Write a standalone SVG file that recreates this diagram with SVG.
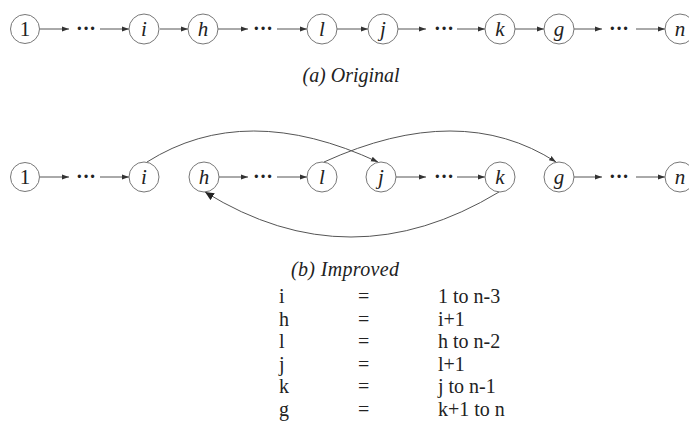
<svg xmlns="http://www.w3.org/2000/svg" width="689" height="425" viewBox="0 0 689 425">
<defs>
<marker id="ah" markerUnits="userSpaceOnUse" markerWidth="8" markerHeight="6" refX="7" refY="3" orient="auto">
<path d="M0,0.5 L7,3 L0,5.5 z" fill="#333"/>
</marker>
<marker id="ahb" markerUnits="userSpaceOnUse" markerWidth="10" markerHeight="8" refX="9" refY="4" orient="auto">
<path d="M0,0 L9,4 L0,8 z" fill="#222"/>
</marker>
</defs>
<style>
text{font-family:'Liberation Serif','Times New Roman',Times,serif}
.nd{fill:#fff;stroke:#777;stroke-width:1}
.lb{font-style:italic;font-size:21px;fill:#222;text-anchor:middle}
.lr{font-size:21px;fill:#222;text-anchor:middle}
.dt{font-weight:bold;font-size:20px;fill:#222;text-anchor:middle}
.ed{stroke:#555;stroke-width:1;fill:none;marker-end:url(#ah)}
.cv{stroke:#555;stroke-width:1;fill:none}
.cap{font-style:italic;font-size:20px;fill:#222;text-anchor:middle}
.tb{font-size:20px;fill:#222}
</style>
<rect width="689" height="425" fill="#fff"/>

<g id="connectors">
<line class="ed" x1="40" y1="29" x2="69" y2="29"/>
<line class="ed" x1="100" y1="29" x2="129" y2="29"/>
<line class="ed" x1="160" y1="29" x2="188" y2="29"/>
<line class="ed" x1="218" y1="29" x2="248" y2="29"/>
<line class="ed" x1="277" y1="29" x2="307" y2="29"/>
<line class="ed" x1="337" y1="29" x2="368" y2="29"/>
<line class="ed" x1="398" y1="29" x2="426" y2="29"/>
<line class="ed" x1="457" y1="29" x2="485" y2="29"/>
<line class="ed" x1="515" y1="29" x2="544" y2="29"/>
<line class="ed" x1="574" y1="29" x2="602" y2="29"/>
<line class="ed" x1="636" y1="29" x2="665" y2="29"/>
<line class="ed" x1="40" y1="177" x2="69" y2="177"/>
<line class="ed" x1="100" y1="177" x2="129" y2="177"/>
<line class="ed" x1="219" y1="177" x2="248" y2="177"/>
<line class="ed" x1="277" y1="177" x2="307" y2="177"/>
<line class="ed" x1="396" y1="177" x2="426" y2="177"/>
<line class="ed" x1="457" y1="177" x2="485" y2="177"/>
<line class="ed" x1="574" y1="177" x2="602" y2="177"/>
<line class="ed" x1="636" y1="177" x2="665" y2="177"/>
<path class="ed" d="M147,162 Q245,100 378,162"/>
<path class="ed" d="M324,162 Q460,100 556,162"/>
<path class="cv" d="M499,192 Q350,282 205,192" marker-end="url(#ahb)"/>
</g>

<g id="top-row">
<g id="a-1"><circle class="nd" cx="25" cy="29" r="14.5"/><text class="lr" x="25" y="36">1</text></g>
<text class="dt" x="86" y="35">···</text>
<g id="a-i"><circle class="nd" cx="144" cy="29" r="15"/><text class="lb" x="144" y="36">i</text></g>
<g id="a-h"><circle class="nd" cx="203" cy="29" r="15"/><text class="lb" x="203" y="36">h</text></g>
<text class="dt" x="263" y="35">···</text>
<g id="a-l"><circle class="nd" cx="322" cy="29" r="15"/><text class="lb" x="322" y="36">l</text></g>
<g id="a-j"><circle class="nd" cx="383" cy="29" r="15"/><text class="lb" x="383" y="36">j</text></g>
<text class="dt" x="444" y="35">···</text>
<g id="a-k"><circle class="nd" cx="500" cy="29" r="15"/><text class="lb" x="500" y="36">k</text></g>
<g id="a-g"><circle class="nd" cx="559" cy="29" r="15"/><text class="lb" x="559" y="36">g</text></g>
<text class="dt" x="619" y="35">···</text>
<g id="a-n"><circle class="nd" cx="680" cy="29" r="15"/><text class="lb" x="680" y="36">n</text></g>
</g>
<text class="cap" x="351" y="82" textLength="97">(a) Original</text>

<g id="bottom-row">
<g id="b-1"><circle class="nd" cx="25" cy="177" r="14.5"/><text class="lr" x="25" y="184">1</text></g>
<text class="dt" x="86" y="183">···</text>
<g id="b-i"><circle class="nd" cx="144" cy="177" r="15"/><text class="lb" x="144" y="184">i</text></g>
<g id="b-h"><circle class="nd" cx="204" cy="177" r="15"/><text class="lb" x="204" y="184">h</text></g>
<text class="dt" x="263" y="183">···</text>
<g id="b-l"><circle class="nd" cx="322" cy="177" r="15"/><text class="lb" x="322" y="184">l</text></g>
<g id="b-j"><circle class="nd" cx="381" cy="177" r="15"/><text class="lb" x="381" y="184">j</text></g>
<text class="dt" x="444" y="183">···</text>
<g id="b-k"><circle class="nd" cx="500" cy="177" r="15"/><text class="lb" x="500" y="184">k</text></g>
<g id="b-g"><circle class="nd" cx="559" cy="177" r="15"/><text class="lb" x="559" y="184">g</text></g>
<text class="dt" x="619" y="183">···</text>
<g id="b-n"><circle class="nd" cx="680" cy="177" r="15"/><text class="lb" x="680" y="184">n</text></g>
</g>
<text class="cap" x="345" y="276" textLength="108">(b) Improved</text>

<g id="table">
<text class="tb" x="279" y="303">i</text><text class="tb" x="358" y="303">=</text><text class="tb" x="438" y="303">1 to n-3</text>
<text class="tb" x="279" y="325.5">h</text><text class="tb" x="358" y="325.5">=</text><text class="tb" x="438" y="325.5">i+1</text>
<text class="tb" x="279" y="348">l</text><text class="tb" x="358" y="348">=</text><text class="tb" x="438" y="348">h to n-2</text>
<text class="tb" x="279" y="370.5">j</text><text class="tb" x="358" y="370.5">=</text><text class="tb" x="438" y="370.5">l+1</text>
<text class="tb" x="279" y="393">k</text><text class="tb" x="358" y="393">=</text><text class="tb" x="438" y="393">j to n-1</text>
<text class="tb" x="279" y="415.5">g</text><text class="tb" x="358" y="415.5">=</text><text class="tb" x="438" y="415.5">k+1 to n</text>
</g>
</svg>
